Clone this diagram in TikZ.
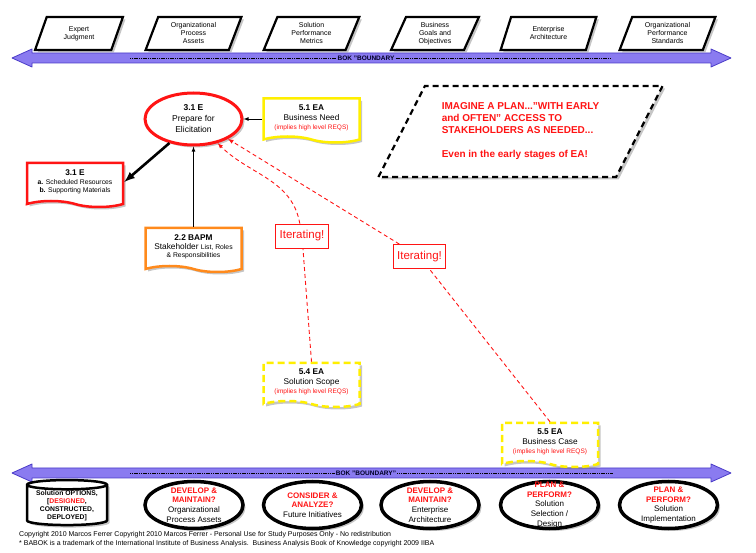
\documentclass[tikz,border=0pt]{standalone}
\usepackage{fontspec}
\setmainfont{Liberation Sans}
\usetikzlibrary{shapes.geometric,shapes.symbols,shadows}

\definecolor{bokfill}{HTML}{8A7BF0}
\definecolor{bokedge}{HTML}{4B3CC8}
\definecolor{needyellow}{HTML}{FFEF00}
\definecolor{bapmorange}{HTML}{FF8A1C}
\definecolor{warnred}{HTML}{FF1414}

\newcommand\reqtext[1]{{\fontsize{6.5}{8}\selectfont\color{warnred}#1}}
\newcommand\smalltext[1]{{\fontsize{6.8}{8.5}\selectfont #1}}

\tikzset{
  dropshade/.style={drop shadow={opacity=0.45,shadow xshift=2.5pt,shadow yshift=-2.5pt}},
  inputbox/.style={trapezium, trapezium left angle=70, trapezium right angle=110,
    trapezium stretches=true, minimum width=96pt, minimum height=33pt, draw=black,
    line width=2.2pt, fill=white, dropshade, align=center, inner sep=1pt,
    font=\fontsize{7}{8}\selectfont},
  bokbar/.style={fill=bokfill, draw=bokedge, line width=0.8pt, line join=round},
  boklabel/.style={font=\fontsize{6.5}{7}\selectfont\bfseries, text=black!85!blue, inner sep=1pt},
  bokline/.style={draw=black, line width=0.5pt, dash pattern=on 1.2pt off 0.6pt},
  docbox/.style={tape, tape bend top=none, tape bend bottom=out and in, tape bend height=6pt,
    minimum width=96pt, minimum height=44pt, fill=white, line width=2.5pt, dropshade,
    align=center, inner sep=1pt, font=\fontsize{8.3}{10}\selectfont},
  taskoval/.style={ellipse, draw=warnred, line width=3pt, fill=white, dropshade,
    minimum width=97pt, minimum height=52pt, inner sep=0pt, align=center,
    font=\fontsize{8.5}{11}\selectfont},
  iterbox/.style={rectangle, draw=warnred, line width=0.8pt, fill=white, text=warnred,
    inner xsep=4pt, inner ysep=3pt, minimum height=24pt, font=\fontsize{11.5}{12}\selectfont},
  iterline/.style={draw=warnred, line width=0.9pt, dash pattern=on 4pt off 3pt},
  outoval/.style={ellipse, draw=black, line width=3.5pt, fill=white, dropshade,
    minimum width=98pt, minimum height=47pt, inner xsep=-8pt, inner ysep=-14pt,
    align=center, font=\fontsize{8}{9.7}\selectfont}
}

\begin{document}
\begin{tikzpicture}[x=1pt, y=-1pt]
\useasboundingbox (0,0) rectangle (756,553);

% boundary bars
\draw[bokbar] (12,58) -- (32,49) -- (32,53) -- (711,53) -- (711,49) -- (731,58)
  -- (711,67) -- (711,63) -- (32,63) -- (32,67) -- cycle;
\node[boklabel] (toplabel) at (366,58) {BOK "BOUNDARY};
\coordinate (topL) at (130,58);
\coordinate (topR) at (611,58);
\draw[bokline] (topL) -- (toplabel.west);
\draw[bokline] (toplabel.east) -- (topR);

\draw[bokbar] (12,473) -- (32,464) -- (32,468) -- (711,468) -- (711,464) -- (731,473)
  -- (711,482) -- (711,478) -- (32,478) -- (32,482) -- cycle;
\node[boklabel] (botlabel) at (366,473) {BOK "BOUNDARY"};
\coordinate (botL) at (130,473);
\coordinate (botR) at (613,473);
\draw[bokline] (botL) -- (botlabel.west);
\draw[bokline] (botlabel.east) -- (botR);

% inputs along the top
\node[inputbox, minimum width=88pt] (expert) at (79,33.5) {Expert\\Judgment};
\node[inputbox] (opa) at (193.5,33.5) {Organizational\\Process\\Assets};
\node[inputbox] (spm) at (311.5,33.5) {Solution\\Performance\\Metrics};
\node[inputbox, minimum width=88pt] (bgo) at (435,33.5) {Business\\Goals and\\Objectives};
\node[inputbox] (ea) at (548.5,33.5) {Enterprise\\Architecture};
\node[inputbox] (ops) at (667.5,33.5) {Organizational\\Performance\\Standards};

% task and its documents
\node[taskoval] (prep) at (193.5,119) {\textbf{3.1 E}\\Prepare for\\Elicitation};
\node[docbox, draw=needyellow] (doc51) at (311.5,117.5)
  {\textbf{5.1 EA}\\Business Need\\[-1pt]\reqtext{(implies high level REQS)}};
\node[docbox, draw=warnred] (doc31) at (75,182)
  {\textbf{3.1 E}\\[-1pt]\smalltext{\textbf{a.} Scheduled Resources}\\[-1.5pt]
   \smalltext{\textbf{b.} Supporting Materials}};
\node[docbox, draw=bapmorange] (doc22) at (193.5,247)
  {\textbf{2.2 BAPM}\\[-1pt]Stakeholder \smalltext{List, Roles}\\[-1.5pt]
   \smalltext{\& Responsibilities}};
\node[docbox, draw=needyellow, dash pattern=on 7pt off 4pt] (doc54) at (311.5,382)
  {\textbf{5.4 EA}\\Solution Scope\\[-1pt]\reqtext{(implies high level REQS)}};
\node[docbox, draw=needyellow, dash pattern=on 7pt off 4pt] (doc55) at (550,442)
  {\textbf{5.5 EA}\\Business Case\\[-1pt]\reqtext{(implies high level REQS)}};

\node[trapezium, trapezium left angle=58, trapezium right angle=122, trapezium stretches=true,
  minimum width=285pt, minimum height=91pt, draw=black, line width=2.2pt,
  dash pattern=on 6pt off 4pt, fill=white, dropshade, align=left, text=warnred,
  font=\fontsize{10}{12}\selectfont\bfseries] (plan) at (520.5,131.5)
  {IMAGINE A PLAN..."WITH EARLY\\and OFTEN" ACCESS TO\\STAKEHOLDERS AS NEEDED...\\[12pt]Even in the early stages of EA!};

\node[iterbox] (iterA) at (302,236) {Iterating!};
\node[iterbox] (iterB) at (419.5,256.5) {Iterating!};

% connectors
\draw[-latex, line width=0.8pt] (doc51.west |- prep.east) -- (prep.east);
\draw[-latex, line width=2.6pt] (prep.-135) -- (doc31.east);
\draw[-latex, line width=0.8pt] (doc22.north) -- (prep.south);

\draw[iterline] (doc54.north) -- (iterA);
\draw[iterline, -latex] (iterA) to[out=100, in=-45] (prep.-45);
\draw[iterline] (doc55.north) -- (iterB);
\draw[iterline, -latex] (iterB) -- (prep.-30);

% footer
\node[anchor=west, inner sep=0pt, font=\fontsize{7}{8}\selectfont] (copy) at (19,535)
  {Copyright 2010 Marcos Ferrer Copyright 2010 Marcos Ferrer - Personal Use for Study Purposes Only - No redistribution};
\node[anchor=west, inner sep=0pt, font=\fontsize{7}{8}\selectfont] (babok) at (19,544)
  {* BABOK is a trademark of the International Institute of Business Analysis.\ \ Business Analysis Book of Knowledge copyright 2009 IIBA};

% outputs along the bottom
\node[cylinder, shape border rotate=90, aspect=0.15, draw=black, line width=2.5pt, fill=white,
  dropshade, minimum width=80pt, minimum height=45pt, inner xsep=0pt, inner ysep=-4pt,
  align=center, font=\fontsize{6.8}{8}\selectfont\bfseries] (options) at (67,505.5)
  {Solution OPTIONS,\\{[}\textcolor{warnred}{DESIGNED},\\CONSTRUCTED,\\DEPLOYED]};
\node[outoval] (devopa) at (194,505)
  {\textcolor{warnred}{\bfseries DEVELOP \&}\\\textcolor{warnred}{\bfseries MAINTAIN?}\\Organizational\\Process Assets};
\node[outoval] (future) at (312.5,505)
  {\textcolor{warnred}{\bfseries CONSIDER \&}\\\textcolor{warnred}{\bfseries ANALYZE?}\\Future Initiatives};
\node[outoval] (devea) at (430,505)
  {\textcolor{warnred}{\bfseries DEVELOP \&}\\\textcolor{warnred}{\bfseries MAINTAIN?}\\Enterprise\\Architecture};
\node[outoval] (design) at (549.5,505)
  {\textcolor{warnred}{\bfseries PLAN \&}\\\textcolor{warnred}{\bfseries PERFORM?}\\Solution\\Selection /\\Design};
\node[outoval] (implement) at (668.5,505)
  {\textcolor{warnred}{\bfseries PLAN \&}\\\textcolor{warnred}{\bfseries PERFORM?}\\Solution\\Implementation};
\end{tikzpicture}
\end{document}
